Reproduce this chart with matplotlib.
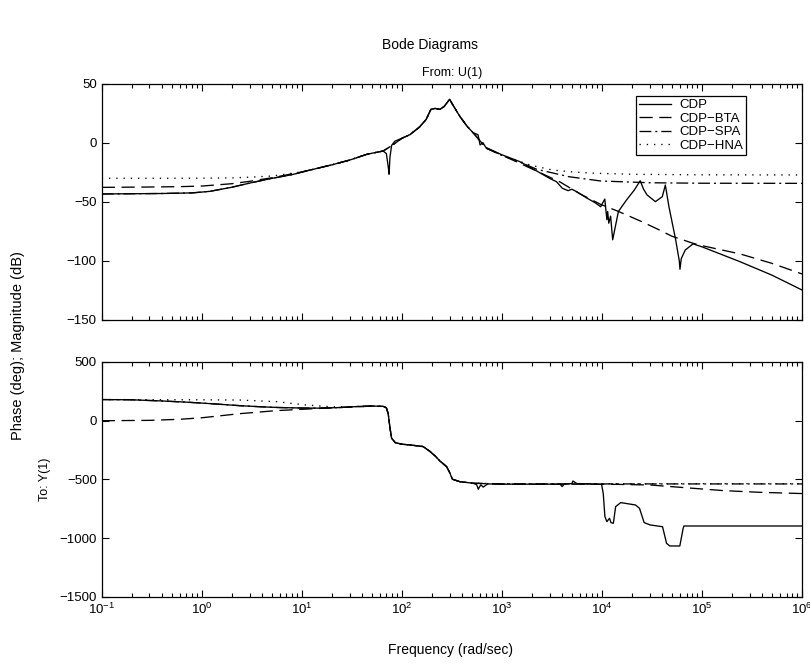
import matplotlib
matplotlib.use("Agg")
import matplotlib.pyplot as plt
from matplotlib.ticker import LogLocator, NullFormatter

plt.rcParams["font.family"] = ["Liberation Sans", "DejaVu Sans"]
plt.rcParams["axes.unicode_minus"] = True

# full order model, magnitude (dB)
cdp_mag_w = [0.1, 0.2, 0.4, 0.8, 1.2, 2.0, 3.0, 5.0, 8.0, 12, 20, 30, 45, 55, 65, 70, 73,
             74.5, 76, 79, 85, 100, 120, 150, 175, 195, 215, 240, 265, 300, 330, 380, 450,
             515, 560, 578, 605, 645, 690, 757, 1000, 1510, 2000, 3000, 3510, 4020, 4590,
             5000, 5600, 7000, 8500, 9700, 10670, 11200, 11400, 11700, 12200, 12800, 14600,
             17700, 21000, 24100, 26000, 28200, 34200, 40100, 43000, 46700, 54200, 59300,
             60200, 62000, 68000, 81300, 100000, 240000, 500000, 1000000]
cdp_mag = [-43.2, -43.0, -42.8, -42.3, -41.0, -37.5, -34.0, -30.0, -26.8, -23.0, -18.5, -14.5,
           -9.5, -8.0, -6.8, -9.0, -20.0, -26.5, -12.0, -2.0, 1.5, 4.0, 7.0, 13.5, 20.0, 28.5,
           29.3, 28.5, 31.0, 37.0, 31.0, 22.5, 14.0, 8.7, 7.5, 6.8, -1.7, 0.3, -3.7, -5.3,
           -10.0, -15.8, -21.5, -30.0, -32.8, -38.4, -40.4, -39.2, -41.3, -46.5, -50.5, -54.0,
           -47.5, -65.0, -58.0, -68.0, -62.0, -82.0, -58.0, -48.0, -40.0, -32.0, -39.0, -44.0,
           -49.7, -45.5, -35.6, -54.0, -80.8, -100.0, -107.0, -98.0, -90.7, -85.5, -88.0,
           -100.6, -112.0, -124.6]

# balanced truncation
bta_mag_w = [0.1, 0.3, 0.6, 1.0, 2.0, 3.0, 5.0, 10, 20, 30, 45, 65, 80, 100, 120, 150, 175,
             195, 215, 240, 265, 300, 330, 380, 450, 515, 700, 1000, 2000, 3800, 6000, 9700,
             14600, 24000, 36000, 50000, 81300, 100000, 240000, 500000, 1000000]
bta_mag = [-37.6, -37.3, -37.0, -36.5, -34.5, -32.5, -29.5, -24.5, -18.5, -14.5, -9.5, -6.8,
           -2.0, 4.0, 7.0, 13.5, 20.0, 28.5, 29.3, 28.5, 31.0, 37.0, 31.0, 22.5, 14.0, 8.7,
           -4.5, -10.3, -22.0, -33.0, -43.0, -52.0, -58.0, -66.0, -73.0, -79.0, -85.0, -87.0,
           -94.0, -102.0, -111.0]

# singular perturbation
spa_mag_w = [0.1, 0.2, 0.4, 0.8, 1.2, 2.0, 3.0, 5.0, 8.0, 12, 20, 30, 45, 65, 80, 100, 120,
             150, 175, 195, 215, 240, 265, 300, 330, 380, 450, 515, 700, 1000, 1500, 2230,
             4700, 9700, 30000, 100000, 1000000]
spa_mag = [-43.2, -43.0, -42.8, -42.3, -41.0, -37.5, -34.0, -30.0, -26.8, -23.0, -18.5,
           -14.5, -9.5, -6.8, -2.0, 4.0, 7.0, 13.5, 20.0, 28.5, 29.3, 28.5, 31.0, 37.0, 31.0,
           22.5, 14.0, 8.7, -4.5, -10.5, -16.0, -22.3, -28.6, -32.2, -33.7, -34.1, -34.2]

# Hankel norm approximation
hna_mag_w = [0.1, 0.5, 1.0, 2.0, 3.0, 5.0, 10, 20, 30, 45, 65, 80, 100, 120, 150, 175, 195,
             215, 240, 265, 300, 330, 380, 450, 515, 700, 1030, 1920, 3200, 5000, 8900,
             20000, 100000, 1000000]
hna_mag = [-29.9, -29.9, -29.8, -29.6, -29.0, -28.0, -24.5, -18.5, -14.5, -9.5, -6.8, -2.0,
           4.0, 7.0, 13.5, 20.0, 28.5, 29.3, 28.5, 31.0, 37.0, 31.0, 22.5, 14.0, 8.7, -4.5,
           -11.0, -18.7, -22.9, -24.5, -25.7, -26.5, -27.0, -27.1]

# phase (deg)
cdp_ph_w = [0.1, 0.2, 0.4, 0.7, 1.0, 1.5, 2.4, 4.0, 6.0, 10, 15, 24, 38, 50, 65, 70, 73, 76,
            79, 86, 100, 120, 163, 190, 215, 240, 280, 300, 320, 380, 515, 560, 580, 615, 650,
            700, 730, 1000, 3800, 4000, 4200, 5000, 5130, 5600, 9900, 10300, 10700, 11200,
            11900, 12300, 13000, 13700, 15400, 21600, 23700, 26400, 30300, 40300, 44200,
            47600, 60000, 64800, 66000, 1000000]
cdp_ph = [180, 178, 168, 158, 150, 140, 128, 118, 112, 108, 107, 112, 122, 125, 122, 110, 60,
          -60, -150, -187, -200, -206, -220, -260, -300, -343, -391, -440, -498, -519, -532,
          -545, -583, -545, -565, -545, -538, -540, -540, -560, -540, -535, -513, -535, -540,
          -620, -816, -859, -830, -867, -873, -731, -697, -717, -745, -867, -887, -902,
          -1043, -1066, -1066, -915, -896, -896]

bta_ph_w = [0.1, 0.3, 0.6, 1.0, 2.4, 5.6, 10, 20, 40, 50, 65, 70, 73, 76, 79, 86, 100, 120,
            163, 190, 215, 240, 280, 300, 320, 380, 515, 1000, 5000, 12700, 30300, 67800,
            165000, 370000, 1000000]
bta_ph = [0, 3, 12, 25, 60, 86, 97, 110, 120, 125, 122, 110, 60, -60, -150, -187, -200, -206,
          -220, -260, -300, -343, -391, -440, -498, -519, -532, -540, -540, -541, -547, -570,
          -595, -609, -620]

spa_ph_w = [0.1, 0.2, 0.4, 0.7, 1.0, 1.5, 2.4, 4.0, 6.0, 10, 15, 24, 38, 50, 65, 70, 73, 76,
            79, 86, 100, 120, 163, 190, 215, 240, 280, 300, 320, 380, 515, 1000, 10000,
            100000, 1000000]
spa_ph = [180, 178, 168, 158, 150, 140, 128, 118, 112, 108, 107, 112, 122, 125, 122, 110, 60,
          -60, -150, -187, -200, -206, -220, -260, -300, -343, -391, -440, -498, -519, -532,
          -538, -538, -538, -538]

hna_ph_w = [0.1, 1.0, 2.4, 5.6, 11, 20, 40, 50, 65, 70, 73, 76, 79, 86, 100, 120, 163, 190,
            215, 240, 280, 300, 320, 380, 515, 1000, 10000, 100000, 1000000]
hna_ph = [180, 178, 176, 162, 134, 118, 120, 125, 122, 110, 60, -60, -150, -187, -200, -206,
          -220, -260, -300, -343, -391, -440, -498, -519, -532, -537, -536, -536, -536]

series = [
    ("CDP", dict(ls="-"), cdp_mag_w, cdp_mag, cdp_ph_w, cdp_ph),
    ("CDP\u2212BTA", dict(ls=(0, (10, 5))), bta_mag_w, bta_mag, bta_ph_w, bta_ph),
    ("CDP\u2212SPA", dict(ls=(0, (9, 3, 1.5, 3))), spa_mag_w, spa_mag, spa_ph_w, spa_ph),
    ("CDP\u2212HNA", dict(ls=(0, (1, 4.5))), hna_mag_w, hna_mag, hna_ph_w, hna_ph),
]

fig = plt.figure(figsize=(8.1, 6.65), dpi=100)
ax_mag = fig.add_axes([0.1256, 0.5188, 0.8646, 0.3549])
ax_ph = fig.add_axes([0.1256, 0.1023, 0.8646, 0.3534])

for label, style, mw, mv, pw, pv in series:
    ax_mag.semilogx(mw, mv, color="black", lw=0.95, label=label, **style)
    ax_ph.semilogx(pw, pv, color="black", lw=0.95, **style)

for ax in (ax_mag, ax_ph):
    ax.set_xlim(0.1, 1e6)
    ax.xaxis.set_major_locator(LogLocator(base=10, numticks=20))
    ax.xaxis.set_minor_locator(LogLocator(base=10, subs=range(2, 10), numticks=20))
    ax.xaxis.set_minor_formatter(NullFormatter())
    ax.tick_params(which="both", direction="in", top=True, right=True, labelsize=9.5,
                   width=0.8)
    ax.tick_params(which="major", length=5)
    ax.tick_params(which="minor", length=3)
    for spine in ax.spines.values():
        spine.set_linewidth(0.9)

ax_mag.set_ylim(-150, 50)
ax_mag.set_yticks([-150, -100, -50, 0, 50])
ax_mag.tick_params(labelbottom=False)

ax_ph.set_ylim(-1500, 500)
ax_ph.set_yticks([-1500, -1000, -500, 0, 500])

leg = ax_mag.legend(loc="upper right", bbox_to_anchor=(0.9295, 0.978), fontsize=9.5,
                    handlelength=2.4, handletextpad=0.6, borderpad=0.25, labelspacing=0.1,
                    fancybox=False, framealpha=1, edgecolor="black")
leg.get_frame().set_linewidth(0.9)

fig.text(0.531, 0.932, "Bode Diagrams", ha="center", va="center", fontsize=10)
ax_mag.set_title("From: U(1)", fontsize=9, pad=6)
fig.text(0.022, 0.48, "Phase (deg); Magnitude (dB)", rotation=90, ha="center",
         va="center", fontsize=10.5)
fig.text(0.056, 0.279, "To: Y(1)", rotation=90, ha="center", va="center", fontsize=9)
fig.text(0.556, 0.022, "Frequency (rad/sec)", ha="center", va="center", fontsize=10)

fig.savefig("out.png", dpi=100)
